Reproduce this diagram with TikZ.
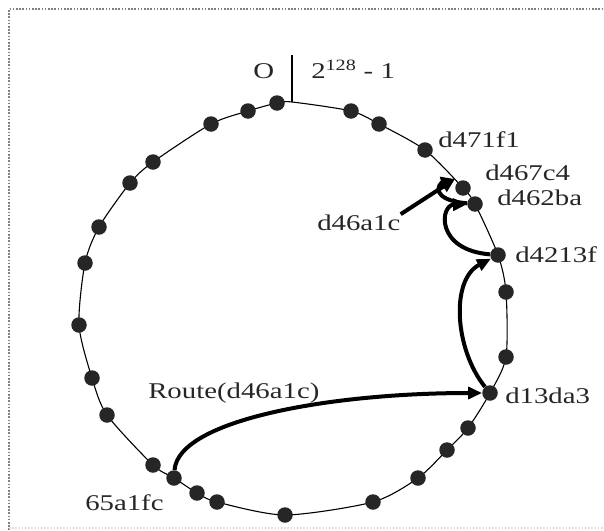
\documentclass[tikz,border=0pt]{standalone}
\usepackage{fontspec}
\setmainfont{Liberation Serif}
\usetikzlibrary{arrows.meta}
\begin{document}
\begin{tikzpicture}[x=1pt,y=-1pt,
  dot/.style={circle,fill=black!85,inner sep=0pt,minimum size=15.5pt},
  lbl/.style={inner sep=0pt,anchor=base west,xscale=1.28,font=\fontsize{22.5}{27}\selectfont,text=black!85},
  hop/.style={line width=4pt,-{Triangle[length=14pt,width=12pt]}},
  ring/.style={line width=1.1pt},
  frame/.style={gray,line width=1.6pt,dash pattern=on 1.6pt off 1.6pt}]
\useasboundingbox (0,0) rectangle (604,530);
% frame
\draw[frame] (9,530) -- (9,9) -- (604,9);
\draw[frame,gray!25] (9,528) -- (604,528);
% ring points
\coordinate (c0) at (292,102);
\coordinate (c1) at (351,111);
\coordinate (c2) at (379,124);
\coordinate (c3) at (425,150);
\coordinate (c4) at (463,188);
\coordinate (c5) at (475,204);
\coordinate (c6) at (498,255);
\coordinate (c7) at (506,292);
\coordinate (c8) at (506,357);
\coordinate (c9) at (490,393);
\coordinate (c10) at (468,428);
\coordinate (c11) at (447,450);
\coordinate (c12) at (418,478);
\coordinate (c13) at (373,502);
\coordinate (c14) at (285,515);
\coordinate (c15) at (217,502);
\coordinate (c16) at (197,493);
\coordinate (c17) at (174,478);
\coordinate (c18) at (153,465);
\coordinate (c19) at (107,415);
\coordinate (c20) at (92,378);
\coordinate (c21) at (79,325);
\coordinate (c22) at (85,263);
\coordinate (c23) at (99,227);
\coordinate (c24) at (130,183);
\coordinate (c25) at (153,162);
\coordinate (c26) at (211,124);
\coordinate (c27) at (248,111);
\coordinate (c28) at (277,103);
\draw[ring] plot[smooth cycle,tension=0.45] coordinates {(c0) (c1) (c2) (c3) (c4) (c5) (c6) (c7) (c8) (c9) (c10) (c11) (c12) (c13) (c14) (c15) (c16) (c17) (c18) (c19) (c20) (c21) (c22) (c23) (c24) (c25) (c26) (c27) (c28)};
% zero tick
\coordinate (tick) at (292,55);
\draw[line width=1.4pt] (tick) -- (c0);
% dots
\foreach \i in {1,...,28} {\node[dot] (n\i) at (c\i) {};}
% labels
\node[lbl] (lO) at (253,78) {O};
\node[lbl] (lmax) at (311,78) {2\textsuperscript{128} - 1};
\node[lbl] (l471) at (438,147) {d471f1};
\node[lbl] (l467) at (485,180) {d467c4};
\node[lbl] (l462) at (497,205) {d462ba};
\node[lbl] (l421) at (515,262) {d4213f};
\node[lbl] (l13d) at (505,403) {d13da3};
\node[lbl] (l46a) at (317,230) {d46a1c};
\node[lbl] (lroute) at (148,398) {Route(d46a1c)};
\node[lbl] (l65a) at (85,510) {65a1fc};
% routing hops
\coordinate (key) at (455,179);
\draw[hop] (n17) .. controls (178,420) and (330,393) .. (n9);
\draw[hop] (n9) .. controls (455,350) and (450,280) .. (n6);
\draw[hop] (n6) .. controls (435,250) and (440,205) .. (n5);
\draw[hop] (n5) .. controls (430,200) and (438,184) .. (key);
\draw[hop] (l46a.north east) -- (key);
\end{tikzpicture}
\end{document}
